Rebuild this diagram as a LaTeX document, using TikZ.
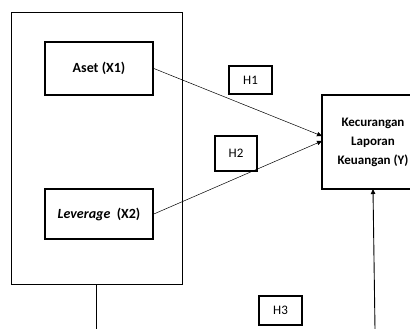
\documentclass[tikz,border=0pt]{standalone}
\usepackage{fontspec}
\setmainfont{Carlito}
\usetikzlibrary{arrows.meta}
\begin{document}
\begin{tikzpicture}[x=1pt,y=-1pt,
  thinbox/.style={draw,line width=0.8pt},
  varbox/.style={draw,line width=1.7pt,inner sep=0pt,font=\fontsize{14}{19}\selectfont\bfseries,align=center},
  hbox/.style={draw,line width=1.3pt,inner sep=0pt,font=\fontsize{13}{15}\selectfont},
  conn/.style={line width=0.5pt,-{Triangle[length=5pt,width=4.5pt]}},
  plain/.style={line width=0.9pt}]
\useasboundingbox (0,0) rectangle (410,329);
\begin{scope}
\clip (0,0) rectangle (410,329);
\node[thinbox,minimum width=171pt,minimum height=272pt,inner sep=0pt] (outer) at (96.5,148) {};
\node[varbox,minimum width=108pt,minimum height=53pt] (x1) at (99,68.5) {Aset (X1)};
\node[varbox,minimum width=108pt,minimum height=50pt] (x2) at (99,214) {\textit{Leverage}\ \ (X2)};
\node[varbox,font=\fontsize{13}{19}\selectfont\bfseries,minimum width=102pt,minimum height=94pt] (y) at (373,142) {Kecurangan\\Laporan\\Keuangan (Y)};
\node[hbox,minimum width=43pt,minimum height=28pt] (h1) at (250.5,80) {H1};
\node[hbox,minimum width=42pt,minimum height=35pt] (h2) at (236,153.5) {H2};
\node[hbox,minimum width=43pt,minimum height=29pt] (h3) at (280.5,310.5) {H3};
\coordinate (a1) at (322,136);
\coordinate (a2) at (322,141);
\coordinate (bot1) at (96,329);
\coordinate (bot2) at (375,329);
\draw[conn] (x1.east) -- (a1);
\draw[conn] (x2.east) -- (a2);
\draw[plain] (outer.south -| bot1) -- (bot1);
\draw[plain,-{Triangle[length=5pt,width=4.5pt]}] (bot2) -- (373,189);
\end{scope}
\end{tikzpicture}
\end{document}
